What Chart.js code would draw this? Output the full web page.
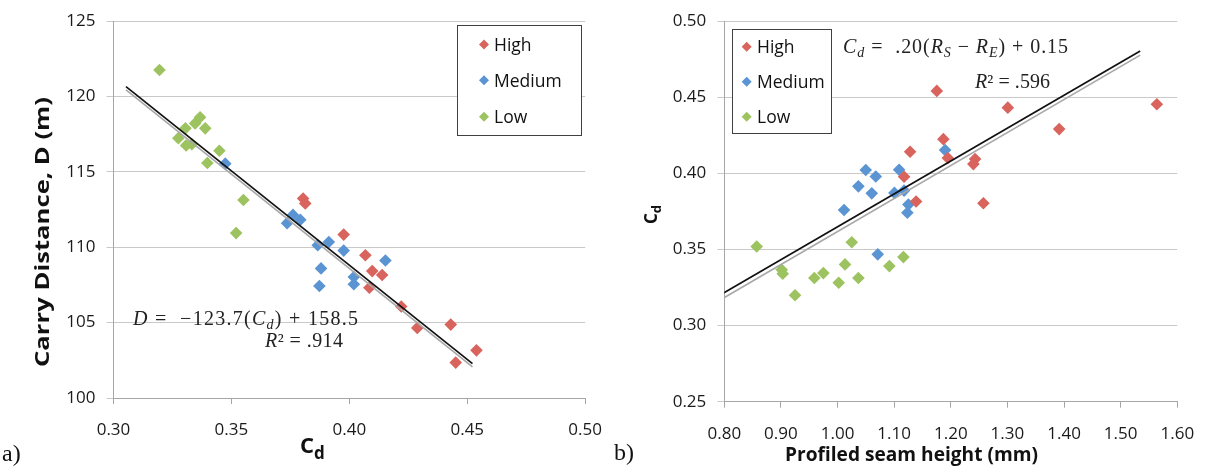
<!DOCTYPE html>
<html>
<head>
<meta charset="utf-8">
<script src="https://cdn.jsdelivr.net/npm/chart.js@4.4.1/dist/chart.umd.min.js"></script>
<style>
  body { margin: 0; background: #fff; width: 1212px; height: 467px; overflow: hidden; position: relative; }
  canvas { position: absolute; top: 0; }
  #leftChart { left: 0; }
  #rightChart { left: 605px; }
  svg { position: absolute; left: 0; top: 0; pointer-events: none; }
  .ttl { font-family: 'Open Sans', sans-serif; font-weight: bold; fill: #111; }
  .eq { font-family: 'Liberation Serif', serif; fill: #222; }
  .leg { font-family: 'Open Sans', sans-serif; font-size: 17.5px; fill: #111; }
  .tag { font-family: 'Liberation Serif', serif; font-size: 24px; fill: #111; }
</style>
</head>
<body>
<canvas id="rightChart" width="607" height="467"></canvas>
<canvas id="leftChart" width="618" height="467"></canvas>

<svg width="1212" height="467" xmlns="http://www.w3.org/2000/svg">
  <!-- axis titles -->
  <text class="ttl" font-size="20" text-anchor="middle" textLength="270" lengthAdjust="spacingAndGlyphs"
        transform="translate(49,232) rotate(-90)">Carry Distance, D (m)</text>
  <text class="ttl" x="300" y="453" font-size="22">C<tspan font-size="17" dy="6">d</tspan></text>
  <text class="ttl" font-size="17" transform="translate(657,224) rotate(-90)">C<tspan font-size="13" dy="4">d</tspan></text>
  <text class="ttl" x="785" y="461" font-size="19.5" textLength="253" lengthAdjust="spacingAndGlyphs">Profiled seam height (mm)</text>

  <!-- fit equations -->
  <text class="eq" x="133" y="325" font-size="20" textLength="225" lengthAdjust="spacing"><tspan font-style="italic">D</tspan> =&#160; −123.7(<tspan font-style="italic">C</tspan><tspan font-size="14" font-style="italic" dy="4">d</tspan><tspan dy="-4">) + 158.5</tspan></text>
  <text class="eq" x="265" y="347" font-size="20" textLength="78" lengthAdjust="spacing"><tspan font-style="italic">R</tspan>² = .914</text>
  <text class="eq" x="843" y="53" font-size="20" textLength="225" lengthAdjust="spacing"><tspan font-style="italic">C</tspan><tspan font-size="14" font-style="italic" dy="4">d</tspan><tspan dy="-4"> =&#160; .20(</tspan><tspan font-style="italic">R</tspan><tspan font-size="14" font-style="italic" dy="4">S</tspan><tspan dy="-4"> − </tspan><tspan font-style="italic">R</tspan><tspan font-size="14" font-style="italic" dy="4">E</tspan><tspan dy="-4">) + 0.15</tspan></text>
  <text class="eq" x="975" y="88" font-size="20" textLength="75" lengthAdjust="spacing"><tspan font-style="italic">R</tspan>² = .596</text>

  <!-- legends -->
  <g id="legendLeft"></g>
  <g id="legendRight"></g>

  <!-- panel tags -->
  <text class="tag" x="2" y="461">a)</text>
  <text class="tag" x="614" y="460">b)</text>
</svg>

<script>
// ---- panel a: drag coefficient vs carry distance ----
const highCd = [0.3804, 0.3813, 0.3976, 0.4068, 0.4097, 0.4139, 0.4085, 0.4220, 0.4288, 0.4430, 0.4451, 0.4539];
const highDist = [113.24, 112.91, 110.84, 109.47, 108.42, 108.16, 107.32, 106.07, 104.65, 104.87, 102.35, 103.16];
const mediumCd = [0.3474, 0.3736, 0.3761, 0.3792, 0.3866, 0.3913, 0.3976, 0.4153, 0.3880, 0.3873, 0.4019, 0.4019];
const mediumDist = [115.55, 111.60, 112.15, 111.82, 110.13, 110.35, 109.78, 109.12, 108.60, 107.43, 108.03, 107.55];
const lowCd = [0.3195, 0.3275, 0.3305, 0.3308, 0.3332, 0.3346, 0.3367, 0.3389, 0.3398, 0.3449, 0.3551, 0.3520];
const lowDist = [121.76, 117.24, 117.89, 116.76, 116.84, 118.22, 118.62, 117.89, 115.59, 116.40, 113.14, 110.94];

const fitCdEnds = [0.3053, 0.4522];
const fitDistTyped = [120.66, 102.28];
const fitDistExcel = [120.44, 102.06];

// ---- panel b: seam height vs drag coefficient ----
const highSeam = [1.1753, 1.3007, 1.5639, 1.3914, 1.1869, 1.1281, 1.1947, 1.2429, 1.2399, 1.1175, 1.1387, 1.2576];
const highSeamCd = [0.4542, 0.4432, 0.4454, 0.4291, 0.4225, 0.4142, 0.4101, 0.4094, 0.4061, 0.3978, 0.3815, 0.3804];
const mediumSeam = [1.1899, 1.0498, 1.1087, 1.0675, 1.0368, 1.0604, 1.1004, 1.1175, 1.1251, 1.1233, 1.0115, 1.0710];
const mediumSeamCd = [0.4153, 0.4022, 0.4024, 0.3980, 0.3915, 0.3869, 0.3872, 0.3887, 0.3795, 0.3741, 0.3760, 0.3468];
const lowSeam = [0.8572, 0.9014, 0.9032, 0.9249, 0.9590, 0.9749, 1.0021, 1.0132, 1.0251, 1.0368, 1.0915, 1.1163];
const lowSeamCd = [0.3520, 0.3367, 0.3341, 0.3199, 0.3313, 0.3345, 0.3282, 0.3402, 0.3548, 0.3313, 0.3391, 0.3450];

const fitSeamEnds = [0.797, 1.5345];
const fitSeamCdTyped = [0.3210, 0.4804];
const fitSeamCdExcel = [0.3177, 0.4777];

const groups = ['High', 'Medium', 'Low'];
const groupColors = ['#d9635d', '#5b94d3', '#9cc35f'];

const TICK_FONT = { family: "'Open Sans', sans-serif", size: 17 };
const GRID = '#c9c9c9';
const AXIS = '#a6a6a6';

function points(xs, ys) {
  return xs.map((x, i) => ({ x, y: ys[i] }));
}

function scatterSet(label, xs, ys, color) {
  return {
    type: 'scatter',
    label,
    data: points(xs, ys),
    pointStyle: 'rectRot',
    pointRadius: 6.3,
    pointHoverRadius: 6.3,
    pointBorderWidth: 0,
    backgroundColor: color,
    borderColor: color,
    order: 2,
  };
}

function fitSet(xs, ys, color, order) {
  return {
    type: 'line',
    data: points(xs, ys),
    borderColor: color,
    borderWidth: 1.7,
    pointRadius: 0,
    fill: false,
    order,
  };
}

// box.right is a floor only: chart.js also reserves half the last x label + tick padding
function buildChart(id, sets, xOpts, yOpts, box) {
  const ctx = document.getElementById(id).getContext('2d');
  return new Chart(ctx, {
    type: 'scatter',
    data: { datasets: sets },
    options: {
      responsive: false,
      animation: false,
      events: [],
      layout: { padding: { left: 0, right: box.right, top: box.top, bottom: 0 } },
      plugins: { legend: { display: false }, tooltip: { enabled: false } },
      scales: {
        x: {
          type: 'linear',
          min: xOpts.min,
          max: xOpts.max,
          afterFit: (s) => { s.height = box.xHeight; },
          grid: { drawOnChartArea: false, color: AXIS, tickLength: 6 },
          border: { color: AXIS },
          ticks: {
            stepSize: xOpts.step,
            padding: 16,
            color: '#1a1a1a',
            font: TICK_FONT,
            maxRotation: 0,
            callback: (v) => v.toFixed(2),
          },
        },
        y: {
          type: 'linear',
          min: yOpts.min,
          max: yOpts.max,
          afterFit: (s) => { s.width = box.yWidth; },
          grid: { color: GRID, tickLength: 7 },
          border: { color: AXIS },
          ticks: {
            stepSize: yOpts.step,
            padding: 11,
            color: '#1a1a1a',
            font: TICK_FONT,
            callback: (v) => (yOpts.digits ? v.toFixed(yOpts.digits) : String(v)),
          },
        },
      },
    },
  });
}

buildChart('leftChart', [
  fitSet(fitCdEnds, fitDistTyped, '#111111', 0),
  fitSet(fitCdEnds, fitDistExcel, '#a8a8a8', 1),
  scatterSet('High', highCd, highDist, groupColors[0]),
  scatterSet('Medium', mediumCd, mediumDist, groupColors[1]),
  scatterSet('Low', lowCd, lowDist, groupColors[2]),
], { min: 0.3, max: 0.5, step: 0.05 }, { min: 100, max: 125, step: 5, digits: 0 },
   { right: 20, top: 18, xHeight: 69, yWidth: 113.5 });

buildChart('rightChart', [
  fitSet(fitSeamEnds, fitSeamCdTyped, '#111111', 0),
  fitSet(fitSeamEnds, fitSeamCdExcel, '#a8a8a8', 1),
  scatterSet('High', highSeam, highSeamCd, groupColors[0]),
  scatterSet('Medium', mediumSeam, mediumSeamCd, groupColors[1]),
  scatterSet('Low', lowSeam, lowSeamCd, groupColors[2]),
], { min: 0.8, max: 1.6, step: 0.1 }, { min: 0.25, max: 0.5, step: 0.05, digits: 2 },
   { right: 34.7, top: 20, xHeight: 65.3, yWidth: 119.3 });

// legends (boxes inside the plot, like the source figure)
const SVG_NS = 'http://www.w3.org/2000/svg';
function renderLegend(gId, box, markerX, textX, rowsY) {
  const g = document.getElementById(gId);
  const rect = document.createElementNS(SVG_NS, 'rect');
  rect.setAttribute('x', box.x);
  rect.setAttribute('y', box.y);
  rect.setAttribute('width', box.w);
  rect.setAttribute('height', box.h);
  rect.setAttribute('fill', '#fff');
  rect.setAttribute('stroke', '#404040');
  rect.setAttribute('stroke-width', '1');
  g.appendChild(rect);
  groups.forEach((name, i) => {
    const cy = rowsY[i];
    const r = 5;
    const d = document.createElementNS(SVG_NS, 'polygon');
    d.setAttribute('points', `${markerX},${cy - r} ${markerX + r},${cy} ${markerX},${cy + r} ${markerX - r},${cy}`);
    d.setAttribute('fill', groupColors[i]);
    g.appendChild(d);
    const t = document.createElementNS(SVG_NS, 'text');
    t.setAttribute('class', 'leg');
    t.setAttribute('x', textX);
    t.setAttribute('y', cy + 6.5);
    t.textContent = name;
    g.appendChild(t);
  });
}

renderLegend('legendLeft', { x: 457.5, y: 25.5, w: 124, h: 110 }, 484, 494, [44.5, 80.3, 116.7]);
renderLegend('legendRight', { x: 732.5, y: 29.5, w: 99, h: 104 }, 746.7, 757, [46.7, 81.7, 116.7]);
</script>
</body>
</html>
